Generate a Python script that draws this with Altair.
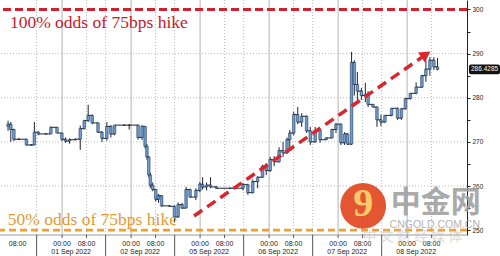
import altair as alt
import pandas as pd

# ---- price bars (session hours from chart start, open/high/low/close) ----
t = [1.0, 1.9, 2.9, 4.5, 7.0, 8.6, 9.6, 10.9, 13.4, 15.0, 17.0, 18.6, 19.8, 21.1, 23.0, 24.6, 25.9, 27.2, 28.5,
     30.4, 31.7, 33.3, 34.6, 35.8, 39.0, 40.6, 43.5, 44.8, 45.8, 46.4, 47.0, 47.5, 48.3, 49.3, 50.2, 51.2, 53.8,
     55.4, 56.6, 57.9, 59.2, 60.5, 62.4, 63.7, 64.6, 65.9, 67.2, 69.1, 73.6, 77.8, 79.4, 81.0, 82.6, 84.2, 85.4,
     86.7, 88.0, 89.6, 90.9, 92.2, 93.1, 94.4, 95.7, 97.0, 98.6, 99.8, 101.4, 103.0, 105.0, 106.9, 108.2, 109.8,
     111.0, 112.0, 113.3, 114.2, 115.2, 116.5, 117.8, 118.7, 120.3, 121.6, 122.9, 124.2, 126.4, 128.3, 129.6,
     130.9, 132.5, 134.4, 136.3, 137.6, 138.9, 140.2, 141.4]
o = [273.5, 274.0, 272.8, 270.6, 270.6, 269.3, 269.3, 272.2, 271.8, 271.8, 273.3, 272.0, 270.6, 270.2, 270.5,
     270.6, 273.0, 274.8, 276.0, 274.3, 272.2, 270.8, 273.5, 271.8, 273.8, 273.8, 273.8, 271.0, 273.5, 269.0,
     266.6, 262.5, 260.2, 259.2, 257.0, 257.8, 255.5, 255.4, 253.0, 255.8, 255.0, 259.2, 257.5, 259.0, 260.4,
     259.8, 260.2, 259.8, 259.5, 259.5, 260.3, 258.5, 261.0, 262.0, 264.5, 263.5, 266.0, 265.5, 268.0, 267.5,
     270.5, 272.0, 276.2, 274.5, 275.8, 272.5, 270.0, 272.6, 270.5, 270.9, 272.8, 274.0, 269.8, 271.8, 269.5,
     288.0, 283.0, 281.5, 280.5, 280.8, 278.5, 277.9, 275.0, 274.5, 276.0, 277.6, 275.4, 277.5, 279.8, 281.0,
     282.4, 285.0, 286.5, 288.5, 287.0]
h = [274.8, 274.5, 273.0, 270.8, 270.7, 269.5, 274.5, 272.4, 272.0, 273.5, 273.4, 272.1, 271.0, 270.8, 270.8,
     273.7, 275.0, 278.4, 276.2, 274.4, 272.5, 274.5, 273.8, 273.8, 273.9, 274.0, 273.9, 273.8, 273.6, 269.5,
     266.8, 263.0, 260.8, 259.4, 258.2, 257.9, 255.6, 255.6, 256.3, 256.2, 259.8, 259.4, 259.5, 260.9, 262.0,
     260.8, 262.0, 260.0, 259.6, 260.7, 260.5, 261.5, 262.2, 264.8, 265.2, 266.6, 266.8, 268.8, 270.0, 271.0,
     272.7, 276.8, 277.9, 276.5, 276.0, 273.4, 273.4, 272.8, 271.0, 273.0, 274.3, 274.2, 272.2, 272.0, 290.4,
     288.5, 285.8, 282.2, 283.4, 281.5, 278.6, 278.0, 276.2, 276.1, 277.7, 277.8, 277.7, 280.0, 281.1, 283.5,
     285.2, 288.6, 289.2, 289.2, 289.0]
l = [272.5, 270.0, 270.2, 270.4, 269.2, 269.2, 269.3, 271.5, 271.7, 271.8, 272.0, 270.2, 269.8, 269.6, 270.3,
     268.2, 272.8, 274.5, 274.0, 272.0, 270.0, 270.3, 271.0, 271.5, 273.6, 272.8, 270.5, 270.4, 268.5, 266.0,
     262.0, 259.5, 258.8, 256.5, 256.2, 255.3, 255.3, 251.8, 252.8, 254.8, 255.0, 257.3, 256.8, 258.6, 259.2,
     259.0, 259.5, 259.4, 259.4, 259.0, 258.0, 258.3, 259.5, 261.8, 262.5, 263.2, 264.5, 265.3, 266.6, 267.3,
     268.8, 271.5, 274.0, 273.4, 272.0, 269.3, 269.8, 269.8, 270.4, 270.8, 272.0, 269.3, 269.3, 269.3, 269.3,
     280.5, 279.5, 279.5, 279.0, 277.9, 277.8, 273.4, 273.6, 274.3, 275.8, 275.0, 275.0, 277.3, 279.6, 280.8,
     282.2, 283.6, 285.0, 286.3, 286.2]
c = [274.0, 272.8, 270.6, 270.6, 269.3, 269.3, 272.2, 271.8, 271.8, 273.3, 272.0, 270.6, 270.2, 270.5, 270.6,
     273.0, 274.8, 276.0, 274.3, 272.2, 270.8, 273.5, 271.8, 273.8, 273.8, 273.8, 271.0, 273.5, 269.0, 266.6,
     262.5, 260.2, 259.2, 257.0, 257.8, 255.5, 255.4, 253.0, 255.8, 255.0, 259.2, 257.5, 259.0, 260.4, 259.8,
     260.2, 259.8, 259.5, 259.5, 260.3, 258.5, 261.0, 262.0, 264.5, 263.5, 266.0, 265.5, 268.0, 267.5, 270.5,
     272.0, 276.2, 274.5, 275.8, 272.5, 270.0, 272.6, 270.5, 270.9, 272.8, 274.0, 269.8, 271.8, 269.5, 288.0,
     283.0, 281.5, 280.5, 280.8, 278.5, 277.9, 275.0, 274.5, 276.0, 277.6, 275.4, 277.5, 279.8, 281.0, 282.4,
     285.0, 286.5, 288.5, 287.0, 286.4285]

last_label = "286.4285"

# ---- session calendar ----
dates = ["01 Sep 2022", "02 Sep 2022", "05 Sep 2022", "06 Sep 2022", "07 Sep 2022", "08 Sep 2022"]
first_midnight = 18.66   # session hours of 01 Sep 00:00
day_len = 22.56          # hours shown per trading session
sess_lead = 8.32         # session opens this many hours before midnight

# ---- reference levels & annotation ----
top_level = 300
bottom_level = 250
top_text = "100% odds of 75bps hike"
bottom_text = "50% odds of 75bps hike"
arrow_x = [61.8, 137.6]
arrow_y = [253.2, 289.8]
y_ticks = [250, 255, 260, 265, 270, 275, 280, 285, 290, 295, 300]
y_grid = [260, 270, 280, 290]

W, H = 467, 235
xs = alt.Scale(domain=[0, 149.4], nice=False, zero=False)
ys = alt.Scale(domain=[248.9, 302.15], nice=False, zero=False)

lab_font = "Liberation Sans"
y_axis = alt.Axis(
    orient="right", values=y_ticks, labelExpr="datum.value % 10 == 0 ? datum.label : ''",
    grid=False, domainColor="#222", tickColor="#222", tickSize=3, labelFontSize=6.5,
    labelColor="#222", labelPadding=2, title=None, labelFont=lab_font, labelFlush=False)

bars = pd.DataFrame({"t": t, "o": o, "h": h, "l": l, "c": c})

mids = [first_midnight + k * day_len for k in range(len(dates))]
eights = [m + 8 for m in mids]
seps = [m - sess_lead for m in mids]
grid_df = pd.DataFrame({"pos": mids + eights + seps,
                        "kind": ["solid"] * len(mids) + ["dot"] * (len(eights) + len(seps))})
row1 = pd.DataFrame({"pos": [first_midnight - day_len + 8] + mids + eights,
                     "txt": ["08:00"] + ["00:00"] * len(mids) + ["08:00"] * len(eights)})
row2 = pd.DataFrame({"pos": [s + day_len / 2 for s in seps], "txt": dates})
sep_df = pd.DataFrame({"pos": seps})
small_df = pd.DataFrame({"pos": mids + eights})

X = lambda f: alt.X(f, type="quantitative", scale=xs, axis=None)
Y = lambda f: alt.Y(f, type="quantitative", scale=ys, axis=y_axis)

# grid
vgrid_solid = alt.Chart(grid_df).transform_filter("datum.kind == 'solid'").mark_rule(
    color="#b4b4b4", strokeWidth=1).encode(x=X("pos"))
vgrid_dot = alt.Chart(grid_df).transform_filter("datum.kind == 'dot'").mark_rule(
    color="#b8b8b8", strokeWidth=1, strokeDash=[1, 2]).encode(x=X("pos"))
hgrid = alt.Chart(pd.DataFrame({"v": y_grid})).mark_rule(
    color="#b8b8b8", strokeWidth=1, strokeDash=[1, 2]).encode(y=Y("v"))
xline = alt.Chart(pd.DataFrame({"v": [248.9]})).mark_rule(color="#9a9a9a", strokeWidth=1).encode(y=Y("v"))

sep_ticks = alt.Chart(sep_df).mark_rule(color="#555", strokeWidth=1).encode(
    x=X("pos"), y=alt.value(H), y2=alt.value(256))
small_ticks = alt.Chart(small_df).mark_rule(color="#555", strokeWidth=1).encode(
    x=X("pos"), y=alt.value(H), y2=alt.value(H + 3))
lab1 = alt.Chart(row1).mark_text(font=lab_font, fontSize=7, color="#222", baseline="middle").encode(
    x=X("pos"), y=alt.value(243.5), text="txt:N")
lab2 = alt.Chart(row2).mark_text(font=lab_font, fontSize=7, color="#222", baseline="middle").encode(
    x=X("pos"), y=alt.value(252), text="txt:N")

# levels
red = "#d3202f"
orange = "#f0a030"
lvl_top = alt.Chart(pd.DataFrame({"v": [top_level]})).mark_rule(
    color=red, strokeWidth=2.8, strokeDash=[8, 4]).encode(y=Y("v"))
lvl_bot = alt.Chart(pd.DataFrame({"v": [bottom_level]})).mark_rule(
    color=orange, strokeWidth=2.8, strokeDash=[7, 4]).encode(y=Y("v"))

# price
step = alt.Chart(bars).mark_line(interpolate="step-after", color="#1d2533", strokeWidth=1).encode(
    x=X("t"), y=Y("c"))
wick = alt.Chart(bars).mark_rule(color="#1d2533", strokeWidth=1).encode(x=X("t"), y=Y("l"), y2="h")
body = alt.Chart(bars).mark_bar(size=2.6, color="#6a9ad0", stroke="#1d2a3d", strokeWidth=0.5).encode(
    x=X("t"), y=Y("o"), y2="c")

# arrow
arr_df = pd.DataFrame({"x": arrow_x, "y": arrow_y})
arr_line = alt.Chart(arr_df).mark_line(color="#d9262f", strokeWidth=3.5, strokeDash=[10, 6]).encode(
    x=X("x"), y=Y("y"))
arr_head = alt.Chart(arr_df.tail(1)).mark_point(shape="triangle-up", filled=True, size=150,
                                               angle=56, color="#d9262f", opacity=1).encode(
    x=X("x"), y=Y("y"))

# texts
txt_top = alt.Chart(pd.DataFrame({"x": [1.6], "y": [295.8], "s": [top_text]})).mark_text(
    font="Liberation Serif", fontSize=17.5, color="#c8192b", align="left", baseline="alphabetic").encode(
    x=X("x"), y=Y("y"), text="s:N")
txt_bot = alt.Chart(pd.DataFrame({"x": [0.9], "y": [251.2], "s": [bottom_text]})).mark_text(
    font="Liberation Serif", fontSize=17.5, color="#e59a30", align="left", baseline="alphabetic").encode(
    x=X("x"), y=Y("y"), text="s:N")

# last price tag
tag_df = pd.DataFrame({"v": [c[-1]], "s": [last_label]})
tag_box = alt.Chart(tag_df).transform_calculate(a="datum.v + 1.1", b="datum.v - 1.1").mark_rect(
    color="#111", cornerRadius=2).encode(x=alt.value(W + 2), x2=alt.value(W + 33),
                                           y=alt.Y("a:Q", scale=ys, axis=y_axis), y2="b:Q")
tag_txt = alt.Chart(tag_df).mark_text(font=lab_font, fontSize=6.5, color="white", align="left",
                                      baseline="middle").encode(x=alt.value(W + 4), y=Y("v"), text="s:N")

# watermark
wm = pd.DataFrame({"x": [117.1], "y": [255.5]})
wm_circle = alt.Chart(wm).mark_point(shape="circle", filled=True, size=2100, color="#e2481f",
                                     opacity=0.92).encode(x=X("x"), y=Y("y"))
wm_nine = alt.Chart(wm).mark_text(text="9", font="Liberation Serif", fontWeight="bold", fontSize=40,
                                  color="#f9c96a", baseline="middle", dy=-2).encode(x=X("x"), y=Y("y"))
wm_cn = alt.Chart(pd.DataFrame({"x": [140.8], "y": [254.1]})).mark_text(
    text="中金网", font="Noto Sans CJK SC", fontWeight="bold", fontSize=30, color="#9c9c9c",
    opacity=0.85, baseline="alphabetic").encode(x=X("x"), y=Y("y"))
wm_url = alt.Chart(pd.DataFrame({"x": [140.5], "y": [251.2]})).mark_text(
    text="CNGOLD.COM.CN", font=lab_font, fontSize=10.5, color="#a8a8a8", opacity=0.85,
    baseline="middle").encode(x=X("x"), y=Y("y"))
wm_sub = alt.Chart(pd.DataFrame({"x": [133.2]})).mark_text(
    text="中  文  财  经  媒  体", font="Noto Sans CJK SC", fontSize=14, color="#c4c4c4", opacity=0.6,
    baseline="middle").encode(x=X("x"), y=alt.value(237))

chart = alt.layer(
    vgrid_solid, vgrid_dot, hgrid, xline, lvl_top, lvl_bot,
    step, wick, body, arr_line, arr_head, txt_top, txt_bot,
    sep_ticks, small_ticks, lab1, lab2, tag_box, tag_txt,
    wm_circle, wm_nine, wm_cn, wm_url, wm_sub
).properties(
    width=W, height=H, autosize="none",
    padding={"left": 0, "top": 0, "right": 33, "bottom": 21},
    background="white"
).configure_view(stroke=None)

chart.save("out.html", embed_options={"renderer": "svg", "actions": False})
